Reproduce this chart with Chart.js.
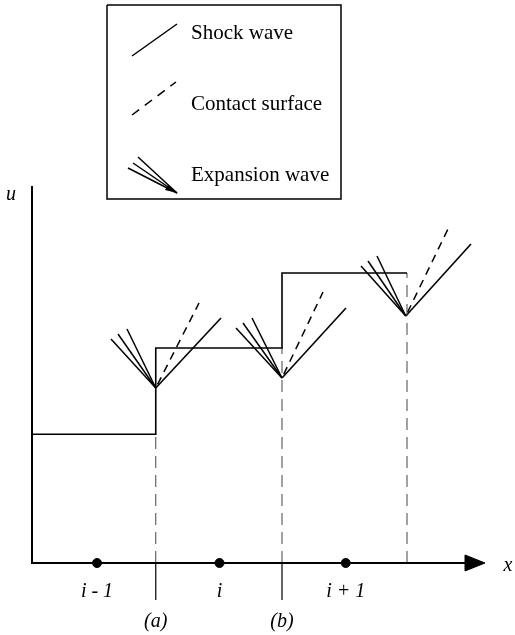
<!DOCTYPE html>
<html>
<head>
<meta charset="utf-8">
<script src="https://cdn.jsdelivr.net/npm/chart.js@4/dist/chart.umd.min.js"></script>
<style>
  html, body { margin: 0; padding: 0; background: #fff; }
  canvas { display: block; }
</style>
</head>
<body>
<canvas id="c" width="515" height="635"></canvas>
<script>
// cells and interfaces along x (interface spacing = 1)
const cellCenters = [0.52, 1.5, 2.51];
const cellLabels = ['i - 1', 'i', 'i + 1'];
const interfaces = [0.99, 2.0, 3.0];
const interfaceLabels = ['(a)', '(b)', ''];
const interfaceSolidBelow = [true, true, false];

// piecewise constant u in each cell
const stateU = [1.03, 1.72, 2.32];

// Riemann fan at each interface: vertex, shock, contact, expansion lines
const waveVertex = [[0.99, 1.40], [2.0, 1.48], [2.99, 1.976]];
const shockEnd = [[1.512, 1.96], [2.512, 2.04], [3.512, 2.552]];
const contactEnd = [[1.336, 2.08], [2.328, 2.168], [3.328, 2.672]];
const fanEnds = [
  [[0.632, 1.792], [0.688, 1.832], [0.76, 1.872]],
  [[1.632, 1.88], [1.688, 1.92], [1.76, 1.96]],
  [[2.632, 2.376], [2.688, 2.416], [2.76, 2.456]]
];

// axes
const yAxisTop = 3.016;
const xArrowTip = 3.624;
const xArrowBase = 3.464;
const arrowHalf = 0.064;
const belowAxis = -0.296;

// legend box and samples
const legendBox = [[0.6, 4.464], [2.472, 4.464], [2.472, 2.912], [0.6, 2.912]];
const legendShock = [[0.80, 4.056], [1.16, 4.312]];
const legendContact = [[0.80, 3.584], [1.152, 3.848]];
const legendFanVertex = [1.16, 2.96];
const legendFanEnds = [[0.768, 3.16], [0.808, 3.20], [0.848, 3.248]];
const legendLabels = ['Shock wave', 'Contact surface', 'Expansion wave'];
const legendLabelPos = [[1.272, 4.236], [1.272, 3.672], [1.272, 3.104]];

const pt = p => ({ x: p[0], y: p[1] });

function line(points, opts = {}) {
  return Object.assign({
    data: points.map(pt),
    showLine: true,
    borderColor: '#000',
    borderWidth: 1.5,
    pointRadius: 0,
    fill: false,
    tension: 0
  }, opts);
}

const datasets = [];

// axes
datasets.push(line([[0, yAxisTop], [0, 0], [xArrowBase, 0]], { borderWidth: 2 }));
datasets.push(line([[xArrowBase, arrowHalf], [xArrowTip, 0], [xArrowBase, -arrowHalf], [xArrowBase, arrowHalf]],
  { borderWidth: 1, fill: 'shape', backgroundColor: '#000' }));

// step profile of u
const step = [[0, stateU[0]]];
interfaces.forEach((xi, k) => {
  step.push([xi, stateU[k]]);
  if (k + 1 < stateU.length) step.push([xi, stateU[k + 1]]);
});
datasets.push(line(step, { borderWidth: 1.6 }));

// interface guide lines
interfaces.forEach((xi, k) => {
  datasets.push(line([[xi, 0], [xi, stateU[k]]], { borderWidth: 1, borderColor: '#444', borderDash: [12, 7] }));
  if (interfaceSolidBelow[k]) {
    datasets.push(line([[xi, 0], [xi, belowAxis]], { borderWidth: 1.2 }));
  }
});

// waves
waveVertex.forEach((v, k) => {
  datasets.push(line([v, shockEnd[k]], { borderWidth: 1.6 }));
  datasets.push(line([v, contactEnd[k]], { borderWidth: 1.5, borderDash: [8, 6], borderDashOffset: 10 }));
  fanEnds[k].forEach(e => datasets.push(line([v, e], { borderWidth: 1.5 })));
});

// cell centre dots
datasets.push({
  data: cellCenters.map(x => ({ x, y: 0 })),
  showLine: false,
  pointRadius: 4.5,
  pointBackgroundColor: '#000',
  pointBorderColor: '#000'
});

// legend
datasets.push(line([...legendBox, legendBox[0]], { borderWidth: 1.5 }));
datasets.push(line(legendShock, { borderWidth: 1.5 }));
datasets.push(line(legendContact, { borderWidth: 1.5, borderDash: [9, 7] }));
legendFanEnds.forEach(e => datasets.push(line([e, legendFanVertex], { borderWidth: 1.5 })));

const textPlugin = {
  id: 'labels',
  afterDatasetsDraw(chart) {
    const { ctx, scales: { x, y } } = chart;
    const px = v => x.getPixelForValue(v);
    const py = v => y.getPixelForValue(v);
    ctx.save();
    ctx.fillStyle = '#000';
    ctx.textBaseline = 'middle';

    // fan arrow tip in legend
    ctx.beginPath();
    const tx = px(legendFanVertex[0]), ty = py(legendFanVertex[1]);
    ctx.moveTo(tx, ty);
    ctx.lineTo(tx - 9, ty - 8);
    ctx.lineTo(tx - 12, ty - 3);
    ctx.closePath();
    ctx.fill();

    ctx.font = '21px "Liberation Serif", "DejaVu Serif", serif';
    ctx.textAlign = 'left';
    legendLabels.forEach((t, i) => ctx.fillText(t, px(legendLabelPos[i][0]), py(legendLabelPos[i][1])));

    ctx.font = 'italic 20px "Liberation Serif", "DejaVu Serif", serif';
    ctx.textAlign = 'center';
    cellLabels.forEach((t, i) => ctx.fillText(t, px(cellCenters[i]), py(-0.232)));
    interfaceLabels.forEach((t, i) => { if (t) ctx.fillText(t, px(interfaces[i]), py(-0.472)); });
    ctx.fillText('u', px(-0.168), py(2.944));
    ctx.fillText('x', px(3.808), py(-0.024));
    ctx.restore();
  }
};

new Chart(document.getElementById('c'), {
  type: 'scatter',
  data: { datasets },
  options: {
    responsive: false,
    animation: false,
    layout: { padding: 0, autoPadding: false },
    plugins: { legend: { display: false }, tooltip: { enabled: false } },
    scales: {
      x: { type: 'linear', min: -0.256, max: 3.864, display: false },
      y: { type: 'linear', min: -0.576, max: 4.504, display: false }
    }
  },
  plugins: [textPlugin]
});
</script>
</body>
</html>
